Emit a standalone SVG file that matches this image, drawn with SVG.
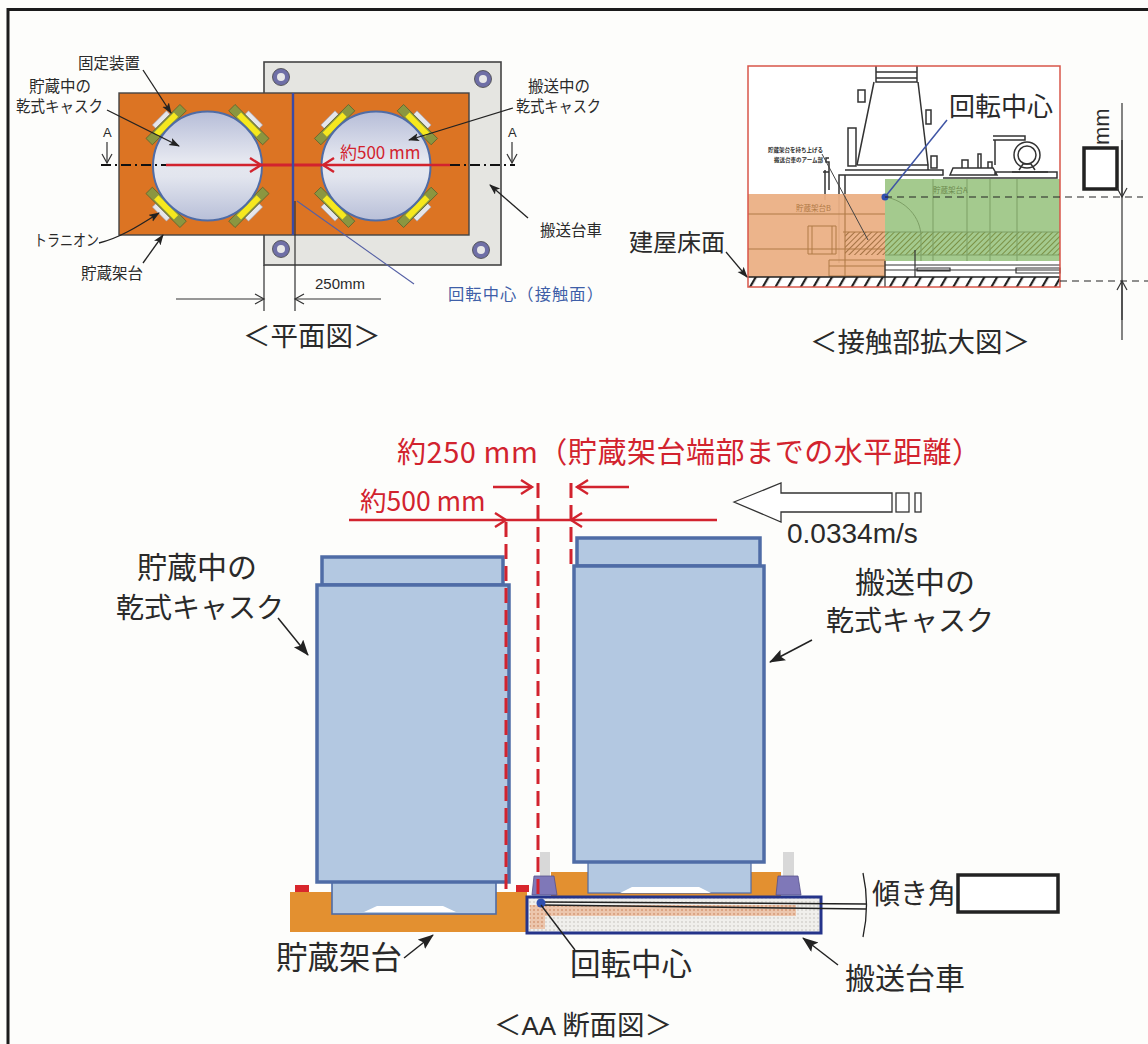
<svg xmlns="http://www.w3.org/2000/svg" width="1148" height="1044" viewBox="0 0 1148 1044">
<style>
text{font-family:"Noto Sans CJK JP","Noto Sans",sans-serif;fill:#2a2a2a}
.s{font-size:15.5px}
.m{font-size:27.5px}
.l{font-size:30px}
.en{font-family:"Liberation Sans",sans-serif}
.red{fill:#d2232e}
.blue{fill:#3f5fa8}
.ln{fill:none;stroke:#333;stroke-width:1.2}
.arr{fill:none;stroke:#222;stroke-width:1.3;marker-end:url(#ah)}
.arb{fill:none;stroke:#222;stroke-width:1.5;marker-end:url(#ab)}
.open{fill:none;stroke:#333;stroke-width:1.2;marker-end:url(#oh)}
.rl{fill:none;stroke:#d2232e;stroke-width:2.4}
.rd{fill:none;stroke:#d2232e;stroke-width:3;stroke-dasharray:15 7}
.cask{fill:#b3c8e1;stroke:#4f6ca6;stroke-width:3.5}
.mb{fill:none;stroke:#333;stroke-width:1.5}
</style>
<defs>
<marker id="ah" markerWidth="12" markerHeight="10" refX="10" refY="4" orient="auto" markerUnits="userSpaceOnUse"><path d="M0 0L11 4L0 8L2.5 4z" fill="#222"/></marker>
<marker id="ab" markerWidth="18" markerHeight="14" refX="15" refY="6" orient="auto" markerUnits="userSpaceOnUse"><path d="M0 0L16 6L0 12L3 6z" fill="#222"/></marker>
<marker id="oh" markerWidth="12" markerHeight="12" refX="10" refY="6" orient="auto" markerUnits="userSpaceOnUse"><path d="M1 1L10 6L1 11" fill="none" stroke="#333" stroke-width="1.2"/></marker>
<marker id="rh" markerWidth="16" markerHeight="16" refX="13" refY="8" orient="auto" markerUnits="userSpaceOnUse"><path d="M2 1L13 8L2 15" fill="none" stroke="#d2232e" stroke-width="2.4"/></marker>
<linearGradient id="ball" x1="0" y1="0" x2="0" y2="1"><stop offset="0" stop-color="#b6bdd8"/><stop offset=".45" stop-color="#e6e8f0"/><stop offset=".6" stop-color="#e2e5ee"/><stop offset="1" stop-color="#b8bfd8"/></linearGradient>
<pattern id="fl" width="11" height="11" patternUnits="userSpaceOnUse" patternTransform="rotate(30)"><rect width="2.2" height="11" fill="#222"/></pattern>
<pattern id="ha" width="4" height="4" patternUnits="userSpaceOnUse" patternTransform="rotate(45)"><rect width="1" height="4" fill="#6d7d2c" opacity=".75"/></pattern>
<pattern id="hb" width="4" height="4" patternUnits="userSpaceOnUse" patternTransform="rotate(45)"><rect width="1" height="4" fill="#8b5a2b" opacity=".75"/></pattern>
<pattern id="dp" width="4" height="4" patternUnits="userSpaceOnUse"><rect width="4" height="4" fill="#ecc6ad"/><circle cx="2" cy="2" r="1" fill="#d69a78"/></pattern>
<pattern id="dg" width="4" height="4" patternUnits="userSpaceOnUse"><rect width="4" height="4" fill="#f0efec"/><circle cx="2" cy="2" r=".9" fill="#d2d0cb"/></pattern>
<g id="br">
<rect x="-10" y="-68" width="20" height="5" fill="#e6e6ea" stroke="#9a9ab0" stroke-width=".6"/>
<rect x="-24" y="-63" width="48" height="9" fill="#8b9640" stroke="#5a6430" stroke-width=".8"/>
<rect x="-14" y="-61.5" width="28" height="6" fill="#f6e81e"/>
</g>
<g id="bolt"><circle r="8.5" fill="#6f6fa6" stroke="#444" stroke-width=".8"/><circle r="4" fill="#e8e8e8"/></g>
</defs>
<rect width="1148" height="1044" fill="#fdfdfb"/>
<path id="frame" d="M8 1044V9.5H1148" fill="none" stroke="#1b1b1b" stroke-width="3"/>

<g id="plan-cart">
<rect x="264" y="62" width="237" height="203" fill="#e5e5e1" stroke="#444" stroke-width="1.6"/>
<use href="#bolt" x="281" y="77"/><use href="#bolt" x="483" y="79"/><use href="#bolt" x="281" y="249"/><use href="#bolt" x="481" y="250"/>
</g>
<g id="plan-rack">
<rect x="119" y="93" width="350" height="142" fill="#dc7423" stroke="#444" stroke-width="1.4"/>
</g>
<g id="plan-cask-left">
<use href="#br" transform="translate(207.5 166) rotate(-45)"/><use href="#br" transform="translate(207.5 166) rotate(45)"/><use href="#br" transform="translate(207.5 166) rotate(135)"/><use href="#br" transform="translate(207.5 166) rotate(-135)"/>
<circle cx="207.5" cy="166" r="54.5" fill="url(#ball)" stroke="#4f6ca6" stroke-width="2"/>
</g>
<g id="plan-cask-right">
<use href="#br" transform="translate(376 166) rotate(-45)"/><use href="#br" transform="translate(376 166) rotate(45)"/><use href="#br" transform="translate(376 166) rotate(135)"/><use href="#br" transform="translate(376 166) rotate(-135)"/>
<circle cx="376" cy="166" r="54.5" fill="url(#ball)" stroke="#4f6ca6" stroke-width="2"/>
</g>
<g id="plan-labels">
<text class="s" x="78" y="69">固定装置</text>
<text class="s" x="29" y="92">貯蔵中の</text>
<text class="s" x="16" y="112" textLength="87" lengthAdjust="spacingAndGlyphs">乾式キャスク</text>
<text class="s" x="34" y="246" textLength="65" lengthAdjust="spacingAndGlyphs">トラニオン</text>
<text class="s" x="81" y="279">貯蔵架台</text>
<text class="s" x="528" y="92">搬送中の</text>
<text class="s" x="516" y="112" textLength="85" lengthAdjust="spacingAndGlyphs">乾式キャスク</text>
<text class="s" x="540" y="236">搬送台車</text>
<text class="en" x="103" y="137" style="font-size:13px;font-family:'Liberation Sans',sans-serif">A</text>
<text class="en" x="508" y="137" style="font-size:13px;font-family:'Liberation Sans',sans-serif">A</text>
<text x="315" y="289" style="font-family:'Liberation Sans',sans-serif;font-size:15px">250mm</text>
<text class="blue" x="448" y="300" style="font-size:16.3px" textLength="155">回転中心（接触面）</text>
<text class="red" x="340" y="159" style="font-size:17px">約500 mm</text>
<text class="m" x="243" y="346">＜平面図＞</text>
</g>

<g id="enlarged-view">
<rect x="748" y="66" width="312" height="221" fill="#fff"/>
<path class="mb" d="M876 66V82H917V66M876 72H917M876 78H917M874 82L857 165M918 82L928 165M845 170H943V175H839V263M845 175V263M857 165H928V170"/>
<path class="mb" d="M858 90h7v12h-7zM848 128h8v38h-8zM926 110h5v14h-5zM931 156h6v12h-6zM825 170v30M829 172v18M823 172h6v-10h-3v-4h3"/>
<path class="mb" d="M950 175l3-7h40l4 7zM962 168v-8h6v8M978 168v-14h3v14M988 168v-6h4v6M995 175v-3h62v6H943M995 165v-16M993 136h32v4h-32M995 140v12"/>
<circle class="mb" cx="1027" cy="155" r="13"/><circle class="mb" cx="1027" cy="155" r="9"/><path class="mb" d="M1019 170l4-6h8l4 6M1012 172h36"/>
<rect x="748" y="194" width="137" height="83" fill="#ebb085" opacity=".95"/>
<rect x="885" y="179" width="175" height="82" fill="#9fc788" opacity=".95"/>
<rect x="845" y="232" width="40" height="23" fill="url(#hb)"/>
<rect x="885" y="232" width="175" height="23" fill="url(#ha)"/>
<path d="M748 214H885M748 249H885M808 226h28v28h-28zM812 226v28M832 226v28M829 260h56v16h-56zM829 266h56M845 196v80M843 232h42" fill="none" stroke="#b07a46" stroke-width="1"/>
<path d="M933 179V261M967 179V261M990 179V261M1017 179V261M885 197c20 3 36 20 36 40v24M885 232H1060M885 255H1060" fill="none" stroke="#7d9f65" stroke-width="1"/>
<path d="M885 265H1060M885 270H1060M885 261V287M917 268h33v3h-33zM1016 268h44v5h-44zM915 250v27" fill="none" stroke="#333" stroke-width="1.2"/>
<path d="M822 154L868 240" fill="none" stroke="#444" stroke-width="1"/>
<text x="768" y="152" style="font-size:5.5px;font-weight:700">貯蔵架台を持ち上げる</text>
<text x="774" y="162" style="font-size:5.5px;font-weight:700">搬送台車のアーム部</text>
<text x="933" y="193" style="font-size:7.5px;fill:#6d8a4f">貯蔵架台A</text>
<text x="796" y="211" style="font-size:7.5px;fill:#b07a46">貯蔵架台B</text>
<rect x="748" y="277" width="312" height="10" fill="url(#fl)"/>
<path d="M748 277H1060" stroke="#222" stroke-width="1.6"/>
<rect x="748" y="66" width="312" height="221" fill="none" stroke="#d8564a" stroke-width="1.5"/>
<circle cx="885" cy="197" r="3.5" fill="#2f4fb0"/>
<text x="949" y="116" style="font-size:26px">回転中心</text>
<text x="629" y="251" style="font-size:24px">建屋床面</text>
<text class="m" x="810" y="352">＜接触部拡大図＞</text>
<text transform="translate(1109 145) rotate(-90)" style="font-size:22px;font-family:'Liberation Sans',sans-serif">mm</text>
<rect id="mm-box" x="1084" y="148" width="33" height="41" fill="#fff" stroke="#222" stroke-width="3.5"/>
</g>

<g id="section-left-cask">
<rect x="290" y="892" width="237" height="40" fill="#e39030"/>
<rect x="295" y="885" width="14" height="7" fill="#d8262c"/><rect x="516" y="885" width="13" height="7" fill="#d8262c"/>
<rect x="332" y="880" width="164" height="34" fill="#b3c8e1" stroke="#4f6ca6" stroke-width="1.6"/>
<path d="M364 912L377 906H443L456 912z" fill="#fff"/>
<rect x="322" y="557" width="181" height="28" class="cask"/>
<rect x="317" y="585" width="192" height="297" class="cask"/>
</g>
<g id="section-right-cask">
<rect x="551" y="872" width="230" height="24" fill="#e39030"/>
<rect x="540" y="852" width="10" height="25" fill="#d8d8d8"/><rect x="783" y="852" width="11" height="25" fill="#d8d8d8"/>
<path d="M534 876H554L557 895H532zM778 876H798L801 895H776z" fill="#7f78b8" stroke="#56508c" stroke-width=".8"/>
<rect x="588" y="862" width="163" height="31" fill="#b3c8e1" stroke="#4f6ca6" stroke-width="1.2"/>
<path d="M620 893L632 887H699L711 893z" fill="#fff"/>
<rect x="577" y="538" width="183" height="28" class="cask"/>
<rect x="574" y="566" width="190" height="296" class="cask"/>
</g>
<g id="section-cart">
<rect x="527" y="897" width="294" height="36" fill="url(#dg)"/>
<rect x="545" y="905" width="251" height="11" fill="url(#dp)"/><rect x="530" y="905" width="15" height="24" fill="url(#dp)"/>
<rect x="527" y="897" width="294" height="36" fill="none" stroke="#25348a" stroke-width="3"/>
<path d="M541 902L866 904M541 905L866 909" stroke="#222" stroke-width="1.5" fill="none"/>
<path d="M863 873Q870 905 863 937" fill="none" stroke="#222" stroke-width="1.3"/>
<circle cx="541" cy="903" r="4.5" fill="#2f4fb0"/>
</g>
<g id="section-labels">
<text class="red" x="397" y="463" style="font-size:29px" textLength="584">約250 mm（貯蔵架台端部までの水平距離）</text>
<text class="red" x="360" y="511" style="font-size:26.5px">約500 mm</text>
<text x="787" y="543" style="font-family:'Liberation Sans',sans-serif;font-size:28px">0.0334m/s</text>
<text class="l" x="137" y="578">貯蔵中の</text>
<text class="l" x="116" y="618" style="font-size:28px">乾式キャスク</text>
<text class="l" x="855" y="593">搬送中の</text>
<text class="l" x="826" y="631" style="font-size:28px">乾式キャスク</text>
<text class="l" x="872" y="904" style="font-size:28px">傾き角</text>
<text class="l" x="276" y="969" style="font-size:31.5px">貯蔵架台</text>
<text class="l" x="570" y="975" style="font-size:30.5px">回転中心</text>
<text class="l" x="845" y="989">搬送台車</text>
<text class="m" x="494" y="1035" textLength="178">＜<tspan style="font-size:26px;font-family:'Liberation Sans Narrow','Liberation Sans',sans-serif">AA</tspan> 断面図＞</text>
<rect id="angle-box" x="958" y="875" width="100" height="37" fill="#fff" stroke="#222" stroke-width="3.5"/>
<path id="speed-arrow" d="M734 502L781 483V493H892V512H781V522z" fill="#fff" stroke="#333" stroke-width="1.3"/>
<rect x="896" y="493" width="13" height="19" fill="#fff" stroke="#333" stroke-width="1.3"/>
<rect x="915" y="493" width="6" height="19" fill="#fff" stroke="#333" stroke-width="1.3"/>
</g>

<g id="connectors">
<path class="ln" d="M101 165H166M450 165H515" stroke-dasharray="10 4 2 4" style="stroke:#111;stroke-width:2"/>
<path class="rl" d="M166 165H261" marker-end="url(#rh)"/>
<path class="rl" d="M261 165H322" style="stroke-width:3"/>
<path class="rl" d="M450 165H323" marker-end="url(#rh)"/>
<path d="M293 93V235" stroke="#3a4aa5" stroke-width="2.4" fill="none"/>
<path d="M297 201L414 284" stroke="#5560a5" stroke-width="1.1" fill="none"/>
<path class="arr" d="M143 70L171 113"/>
<path class="arr" d="M107 110L179 146"/>
<path class="arr" d="M513 108L409 140"/>
<path class="arr" d="M528 218L490 185"/>
<path class="arr" d="M99 243C120 238 140 225 159 213"/>
<path class="arr" d="M143 263L163 235"/>
<path class="open" d="M107 142V163"/><path class="open" d="M512 142V163"/>
<path class="ln" d="M264 265V311M295 201V311"/>
<path class="open" d="M176 299H264"/><path class="open" d="M381 299H295"/>
<path d="M947 120L885 197" stroke="#3f55a5" stroke-width="1.5" fill="none"/>
<path class="arr" d="M726 252L747 277"/>
<path d="M885 197H1143M1060 281H1148" stroke="#222" stroke-width="1.2" stroke-dasharray="7 5" fill="none"/>
<path class="ln" d="M1122 103V340"/>
<path class="open" d="M1122 140V197"/><path class="open" d="M1122 320V281"/>
<path class="rl" d="M493 487H532" marker-end="url(#rh)"/>
<path class="rl" d="M629 487H577" marker-end="url(#rh)"/>
<path class="rl" d="M349 520H506" marker-end="url(#rh)"/>
<path class="rl" d="M506 520H571"/>
<path class="rl" d="M717 520H571" marker-end="url(#rh)"/>
<path class="rd" d="M538 483V894"/>
<path class="rd" d="M571 483V565"/>
<path class="rd" d="M506 522V890"/>
<path class="arb" d="M278 618L308 655"/>
<path class="arb" d="M812 640L770 662"/>
<path class="arb" d="M404 958L433 935"/>
<path class="ln" d="M575 950L541 905" style="stroke:#222;stroke-width:1.4"/>
<path class="arb" d="M838 965L803 938"/>
</g>
</svg>
